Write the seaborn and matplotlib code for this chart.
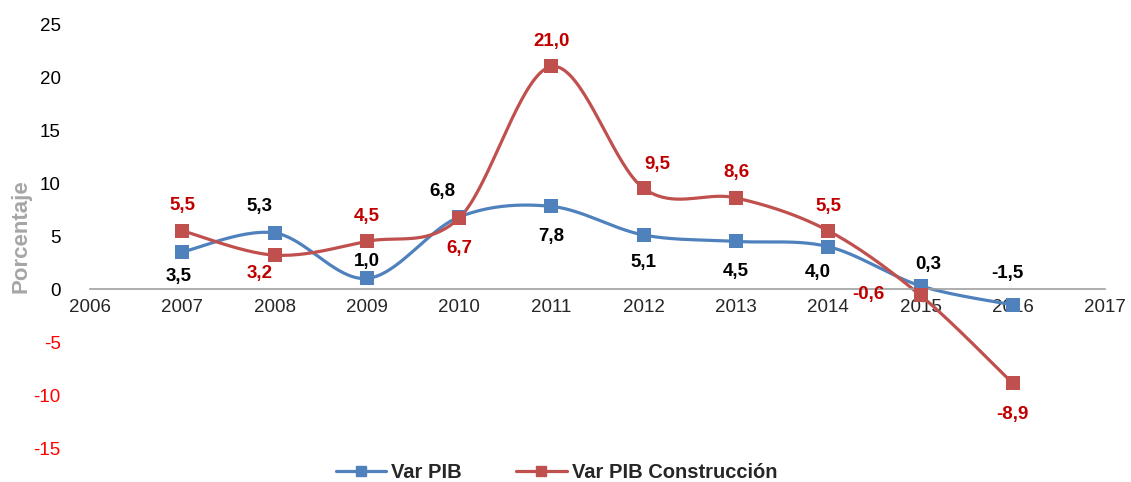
import numpy as np
import pandas as pd
import matplotlib
matplotlib.use('Agg')
import matplotlib.pyplot as plt
import seaborn as sns
from matplotlib.lines import Line2D

# data
years = [2007, 2008, 2009, 2010, 2011, 2012, 2013, 2014, 2015, 2016]
var_pib = [3.5, 5.3, 1.0, 6.8, 7.8, 5.1, 4.5, 4.0, 0.3, -1.5]
var_constr = [5.5, 3.2, 4.5, 6.7, 21.0, 9.5, 8.6, 5.5, -0.6, -8.9]
x_ticks = list(range(2006, 2018))
y_ticks = [-15, -10, -5, 0, 5, 10, 15, 20, 25]

# label placement per point: (dx px, dy px)
pib_offsets = [(-4, -25), (-15, 26), (0, 17), (-17, 25), (0, -30), (0, -28),
               (0, -30), (-11, -26), (8, 21), (-5, 31)]
constr_offsets = [(0, 25), (-15, -18), (0, 25), (0, -30), (0, 25), (14, 24),
                  (0, 25), (0, 24), (-52, 1), (0, -31)]

BLUE = '#4F81BD'
RED = '#C0504D'
LABEL_RED = '#C00000'


def smooth(xs, ys, n=40):
    # Excel-style smoothed line: cubic bezier with catmull-rom control points
    pts = np.column_stack([xs, ys]).astype(float)
    pts = np.vstack([pts[0], pts, pts[-1]])
    out = []
    for i in range(1, len(pts) - 2):
        p0, p1, p2, p3 = pts[i - 1], pts[i], pts[i + 1], pts[i + 2]
        c1 = p1 + (p2 - p0) / 6
        c2 = p2 - (p3 - p1) / 6
        t = np.linspace(0, 1, n)[:, None]
        seg = (1 - t) ** 3 * p1 + 3 * (1 - t) ** 2 * t * c1 + 3 * (1 - t) * t ** 2 * c2 + t ** 3 * p2
        out.append(seg if i == 1 else seg[1:])
    seg = np.vstack(out)
    return pd.DataFrame({'x': seg[:, 0], 'y': seg[:, 1]})


sns.set_style('white')
plt.rcParams['font.family'] = ['Liberation Sans', 'DejaVu Sans']

fig = plt.figure(figsize=(11.31, 4.82), dpi=100)
ax = fig.add_axes([0.0796, 0.0705, 0.8975, 0.8795])

for vals, color in [(var_pib, BLUE), (var_constr, RED)]:
    curve = smooth(years, vals)
    sns.lineplot(data=curve, x='x', y='y', ax=ax, color=color, linewidth=2.3, sort=False, estimator=None)
    pts = pd.DataFrame({'year': years, 'val': vals})
    sns.scatterplot(data=pts, x='year', y='val', ax=ax, color=color, marker='s', s=95, linewidth=0, zorder=5)

for vals, offs, color in [(var_pib, pib_offsets, 'black'), (var_constr, constr_offsets, LABEL_RED)]:
    for x, v, (dx, dy) in zip(years, vals, offs):
        ax.annotate(f'{v:.1f}'.replace('.', ','), (x, v), xytext=(dx * 0.72, dy * 0.72),
                    textcoords='offset points', ha='center', va='center',
                    fontsize=13.5, fontweight='bold', color=color, zorder=6)

ax.set_xlim(2006, 2017)
ax.set_ylim(-15, 25)
ax.set_xticks(x_ticks)
ax.set_yticks(y_ticks)
ax.set_yticklabels([str(t) for t in y_ticks])
for lbl, t in zip(ax.get_yticklabels(), y_ticks):
    lbl.set_color('#FF0000' if t < 0 else 'black')
ax.tick_params(axis='y', length=0, labelsize=13.5, pad=21)
ax.tick_params(axis='x', length=5, width=1, color='#A0A0A0', labelsize=13.5, pad=2, direction='out')

for side in ['left', 'right', 'top']:
    ax.spines[side].set_visible(False)
ax.spines['bottom'].set_position(('data', 0))
ax.spines['bottom'].set_color('#A0A0A0')
ax.spines['bottom'].set_linewidth(1.2)

ax.set_xlabel('')
ax.set_ylabel('Porcentaje', color='#A6A6A6', fontsize=16, fontweight='bold')
ax.yaxis.set_label_coords(-0.058, 0.5)

handles = [Line2D([], [], color=BLUE, lw=2.3, marker='s', markersize=7.5),
           Line2D([], [], color=RED, lw=2.3, marker='s', markersize=7.5)]
fig.legend(handles, ['Var PIB', 'Var PIB Construcción'], loc='center', bbox_to_anchor=(0.492, 0.02),
           ncol=2, frameon=False, prop={'weight': 'bold', 'size': 14.5}, handlelength=2.5,
           columnspacing=2.7, handletextpad=0.25)

fig.savefig('out.png', dpi=100)
